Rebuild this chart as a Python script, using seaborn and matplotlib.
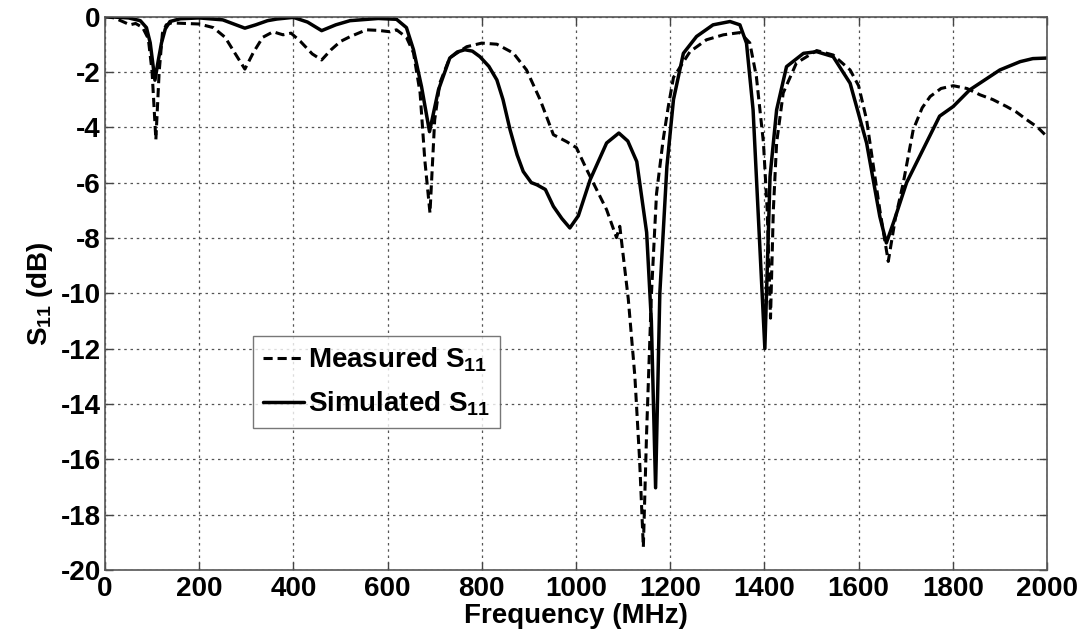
import matplotlib
matplotlib.use("Agg")
import matplotlib.pyplot as plt
import seaborn as sns
import pandas as pd

# Measured S11 (dashed)
meas_freq = [0, 20, 40, 53, 65, 80, 92, 100, 108, 115, 122, 130, 141, 170, 200, 230, 255, 275, 297,
             315, 335, 357, 370, 378, 395, 415, 440, 460, 480, 500, 520, 555, 580, 605, 619, 640,
             655, 669, 679, 690, 700, 711, 732, 768, 800, 832, 867, 895, 924, 952, 980, 1001, 1023,
             1051, 1065, 1086, 1093, 1111, 1125, 1135, 1143, 1150, 1160, 1171, 1185, 1196, 1207,
             1242, 1277, 1313, 1348, 1369, 1383, 1398, 1406, 1413, 1419, 1426, 1440, 1468, 1511,
             1546, 1582, 1600, 1617, 1645, 1663, 1678, 1695, 1716, 1735, 1752, 1775, 1801, 1830,
             1858, 1885, 1914, 1935, 1957, 1980, 2000]
meas_db = [0, -0.05, -0.2, -0.3, -0.25, -0.4, -0.8, -2.0, -4.45, -2.0, -0.6, -0.3, -0.23, -0.25,
           -0.27, -0.4, -0.75, -1.3, -1.9, -1.3, -0.75, -0.55, -0.62, -0.66, -0.6, -0.9, -1.35,
           -1.57, -1.2, -0.9, -0.73, -0.48, -0.5, -0.55, -0.48, -0.75, -1.31, -2.76, -5.18, -7.1,
           -3.73, -2.4, -1.49, -1.09, -0.96, -1.0, -1.32, -1.93, -3.01, -4.27, -4.52, -4.74, -5.54,
           -6.5, -6.98, -7.99, -7.58, -10.2, -13.0, -16.0, -19.17, -15.0, -10.1, -6.4, -4.46,
           -3.25, -2.2, -1.27, -0.84, -0.66, -0.58, -0.95, -2.17, -4.56, -7.0, -10.9, -7.0, -4.56,
           -2.76, -1.68, -1.23, -1.39, -1.93, -2.5, -3.73, -6.98, -8.85, -7.3, -6.0, -4.09, -3.3,
           -2.89, -2.6, -2.5, -2.6, -2.83, -3.0, -3.25, -3.45, -3.73, -4.0, -4.34]

# Simulated S11 (solid)
sim_freq = [0, 50, 75, 88, 96, 106, 113, 120, 128, 138, 160, 200, 250, 275, 297, 320, 345, 365,
            400, 430, 460, 490, 520, 580, 619, 640, 655, 672, 689, 708, 732, 748, 764, 780, 796,
            815, 832, 845, 860, 875, 888, 905, 917, 935, 952, 970, 987, 1005, 1030, 1065, 1091,
            1110, 1129, 1150, 1160, 1169, 1178, 1193, 1207, 1228, 1256, 1291, 1327, 1348, 1362,
            1376, 1390, 1401, 1412, 1426, 1447, 1483, 1511, 1546, 1582, 1617, 1645, 1659, 1675,
            1702, 1737, 1772, 1801, 1836, 1900, 1943, 1970, 2000]
sim_db = [0, -0.05, -0.15, -0.4, -0.95, -2.3, -1.6, -0.95, -0.45, -0.18, -0.08, -0.05, -0.12,
          -0.28, -0.42, -0.3, -0.15, -0.09, -0.03, -0.2, -0.51, -0.3, -0.15, -0.07, -0.1, -0.4,
          -1.2, -2.53, -4.16, -2.65, -1.5, -1.28, -1.2, -1.25, -1.45, -1.8, -2.29, -3.0, -4.09,
          -5.0, -5.6, -6.0, -6.08, -6.25, -6.86, -7.3, -7.64, -7.2, -5.9, -4.57, -4.21, -4.5,
          -5.24, -7.8, -11.0, -17.03, -10.0, -5.42, -3.0, -1.33, -0.72, -0.3, -0.18, -0.3,
          -0.96, -3.37, -8.2, -12.0, -5.78, -3.37, -1.81, -1.33, -1.27, -1.45, -2.41, -4.57,
          -7.22, -8.18, -7.4, -6.0, -4.8, -3.6, -3.25, -2.65, -1.93, -1.63, -1.52, -1.5]

x_ticks = list(range(0, 2001, 200))
y_ticks = list(range(-20, 1, 2))

sns.set_style("ticks")
plt.rcParams['font.family'] = ['Liberation Sans', 'DejaVu Sans']
plt.rcParams['font.weight'] = 'bold'
plt.rcParams['axes.unicode_minus'] = False
plt.rcParams['text.color'] = 'black'
plt.rcParams['axes.labelcolor'] = 'black'
plt.rcParams['xtick.color'] = 'black'
plt.rcParams['ytick.color'] = 'black'
plt.rcParams['mathtext.fontset'] = 'custom'
plt.rcParams['mathtext.rm'] = 'Liberation Sans:bold'
plt.rcParams['mathtext.it'] = 'Liberation Sans:bold'
plt.rcParams['mathtext.bf'] = 'Liberation Sans:bold'

fig = plt.figure(figsize=(10.88, 6.36), dpi=100)
ax = fig.add_axes([0.0965, 0.1038, 0.8658, 0.8702])

df_m = pd.DataFrame({"f": meas_freq, "s": meas_db})
df_s = pd.DataFrame({"f": sim_freq, "s": sim_db})

sns.lineplot(data=df_m, x="f", y="s", ax=ax, color="black", linewidth=2.2,
             linestyle=(0, (3, 1.6)), label=r"Measured $S_{11}$")
sns.lineplot(data=df_s, x="f", y="s", ax=ax, color="black", linewidth=2.5,
             label=r"Simulated $S_{11}$")

ax.set_xlim(0, 2000)
ax.set_ylim(-20, 0)
ax.set_xticks(x_ticks)
ax.set_yticks(y_ticks)
ax.tick_params(direction="in", length=6, width=1, labelsize=20, top=True, right=True,
               pad=3)
ax.tick_params(axis="both", which="both", color="#444444", labelcolor="black")
ax.tick_params(axis="x", pad=4)
for lab in ax.get_xticklabels() + ax.get_yticklabels():
    lab.set_fontweight("bold")
ax.grid(True, linestyle=(0, (2, 3)), color="#555555", linewidth=0.9)
for sp in ax.spines.values():
    sp.set_color("#555555")
    sp.set_linewidth(1.2)

ax.set_xlabel("Frequency (MHz)", fontsize=20, fontweight="bold", labelpad=1)
ax.set_ylabel(r"$S_{11}$ (dB)", fontsize=20, fontweight="bold", labelpad=4)

leg = ax.legend(loc="upper left", bbox_to_anchor=(0.157, 0.423), fontsize=20,
                handlelength=1.5, handletextpad=0.15, borderpad=0.35, labelspacing=0.55,
                frameon=True, fancybox=False, borderaxespad=0)
leg.get_frame().set_edgecolor("#555555")
leg.get_frame().set_linewidth(1.0)

fig.savefig("out.png", dpi=100)
